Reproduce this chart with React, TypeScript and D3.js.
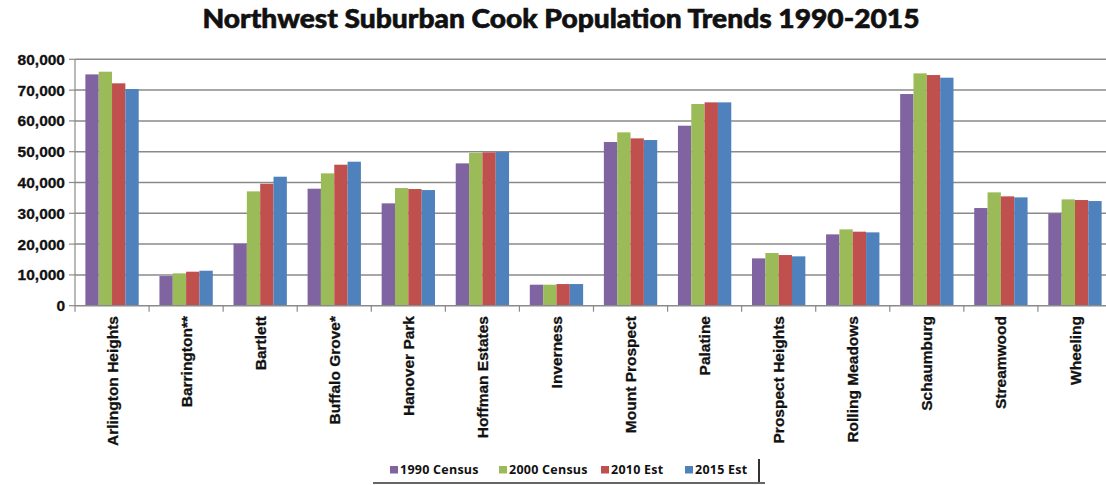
import React from "react";
import * as d3 from "d3";

const categories = [
  "Arlington Heights", "Barrington**", "Bartlett", "Buffalo Grove*", "Hanover Park",
  "Hoffman Estates", "Inverness", "Mount Prospect", "Palatine", "Prospect Heights",
  "Rolling Meadows", "Schaumburg", "Streamwood", "Wheeling",
];
const seriesNames = ["1990 Census", "2000 Census", "2010 Est", "2015 Est"];
const colors = ["#8064A2", "#9BBB59", "#C0504D", "#4F81BD"];
const census1990 = [75100, 9630, 20130, 37990, 33230, 46210, 6820, 53140, 58440, 15370, 23160, 68720, 31710, 29980];
const census2000 = [75970, 10500, 37120, 42970, 38200, 49570, 6820, 56280, 65480, 17100, 24780, 75430, 36800, 34520];
const est2010 = [72200, 11040, 39600, 45780, 37880, 49780, 7030, 54330, 66020, 16450, 24030, 74890, 35500, 34310];
const est2015 = [70350, 11360, 41880, 46750, 37550, 49890, 7030, 53790, 66020, 16020, 23810, 74030, 35170, 33980];
const yTicks = [0, 10000, 20000, 30000, 40000, 50000, 60000, 70000, 80000];
const title = "Northwest Suburban Cook Population Trends 1990-2015";

const seriesValues = [census1990, census2000, est2010, est2015];

export default function App() {
  const W = 1106, H = 485;
  const x0 = 75, x1 = 1112;
  const yTop = 59.3, yBase = 305.7;
  const x = d3.scaleBand<string>().domain(categories).range([x0, x1]).paddingInner(0.28).paddingOuter(0.14);
  const xi = d3.scaleBand<string>().domain(seriesNames).range([0, x.bandwidth()]);
  const y = d3.scaleLinear().domain([0, 80000]).range([yBase, yTop]);
  const fmt = d3.format(",");
  const step = x.step();
  const tickXs = d3.range(categories.length + 1).map((i) => x0 + i * step);

  const legendX = [390, 499, 601, 685];

  return (
    <svg width={W} height={H} style={{ position: "absolute", left: 0, top: 0, background: "#fff" }}
      fontFamily="'Liberation Sans', Arial, sans-serif">
      <rect x={0} y={0} width={W} height={H} fill="#fff" />
      <text x={561} y={28} textAnchor="middle" fontFamily="Lato, 'Open Sans', sans-serif" fontWeight={900}
        fontSize={26} textLength={717} lengthAdjust="spacingAndGlyphs" fill="#111"
        stroke="#111" strokeWidth={0.6}>{title}</text>

      {yTicks.map((t) => (
        <g key={t}>
          {t > 0 && <line x1={x0} x2={W} y1={y(t)} y2={y(t)} stroke="#8a8a8a" strokeWidth={1.5} />}
          <line x1={x0 - 6} x2={x0} y1={y(t)} y2={y(t)} stroke="#8a8a8a" strokeWidth={1.2} />
          <text x={65} y={y(t)} dy="0.36em" textAnchor="end" fontWeight="bold" fontSize={15.5}
            fill="#111" stroke="#111" strokeWidth={0.3}>{fmt(t)}</text>
        </g>
      ))}
      <line x1={x0} x2={x0} y1={yTop} y2={yBase} stroke="#8a8a8a" strokeWidth={1.2} />

      {seriesValues.map((vals, si) =>
        categories.map((c, ci) => (
          <rect key={`${si}-${ci}`} x={(x(c) ?? 0) + (xi(seriesNames[si]) ?? 0)} y={y(vals[ci])}
            width={xi.bandwidth()} height={yBase - y(vals[ci])} fill={colors[si]} />
        ))
      )}

      <line x1={x0} x2={W} y1={yBase} y2={yBase} stroke="#8a8a8a" strokeWidth={1.5} />
      {tickXs.map((tx, i) => (
        <line key={i} x1={tx} x2={tx} y1={yBase} y2={yBase + 6} stroke="#8a8a8a" strokeWidth={1.2} />
      ))}

      {categories.map((c) => {
        const cx = (x(c) ?? 0) + x.bandwidth() / 2;
        return (
          <text key={c} transform={`translate(${cx},316) rotate(-90)`} dy="0.36em" textAnchor="end"
            fontWeight="bold" fontSize={15.5} fill="#111" stroke="#111" strokeWidth={0.3}>{c}</text>
        );
      })}

      {seriesNames.map((s, i) => (
        <g key={s}>
          <rect x={legendX[i]} y={466} width={8} height={7.5} fill={colors[i]} />
          <text x={legendX[i] + 10} y={474} fontWeight="bold" fontSize={12.5} fill="#111"
            letterSpacing={0.25} fontFamily="'Open Sans', sans-serif">{s}</text>
        </g>
      ))}
      <line x1={373} x2={765} y1={483} y2={483} stroke="#333" strokeWidth={1.5} />
      <line x1={759} x2={759} y1={459} y2={482} stroke="#333" strokeWidth={2} />
    </svg>
  );
}
